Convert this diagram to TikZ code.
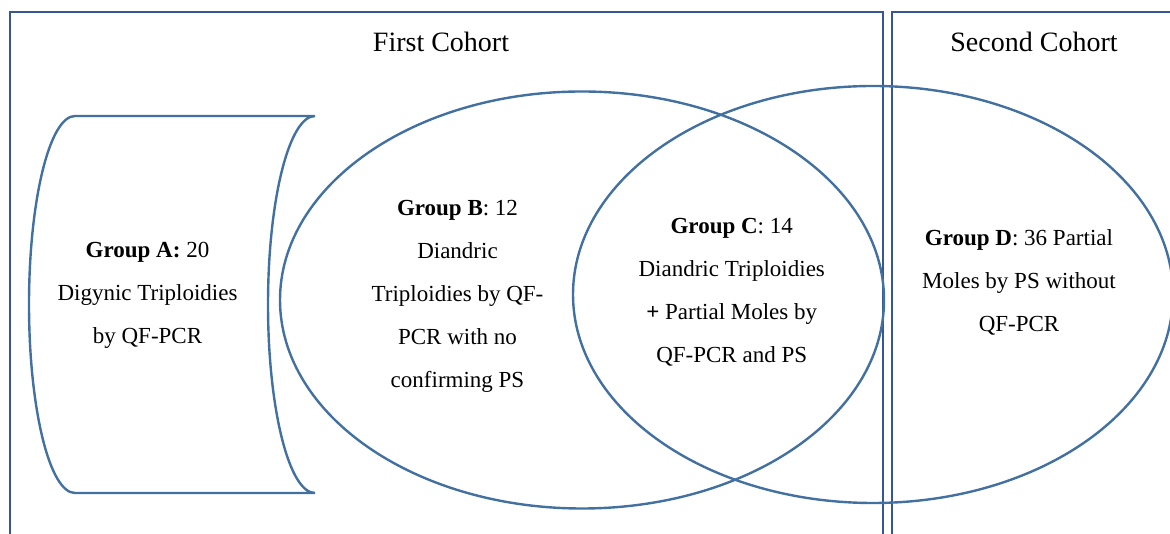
\documentclass[tikz,border=0pt]{standalone}
\usepackage{fontspec}
\setmainfont{Liberation Serif}
\usepackage{tikz}
\usetikzlibrary{positioning,shapes.geometric}
\definecolor{framecol}{RGB}{56,86,150}
\definecolor{shapecol}{RGB}{66,112,160}

\begin{document}
\begin{tikzpicture}[x=0.5pt, y=0.5pt,
    frame/.style={draw=framecol, line width=1.25pt},
    venn/.style={draw=shapecol, line width=1.2pt},
    grouptext/.style={align=center, font=\fontsize{11.5}{21.5}\selectfont},
    cohorttext/.style={font=\fontsize{14}{16}\selectfont}]
    \clip (0,0) rectangle (1170,534);

    \draw[frame] (10,-20) -- (10,522) -- (883,522) -- (883,-20);
    \draw[frame] (892,-20) -- (892,522) -- (1190,522);

    \node[cohorttext] (first) at (441,492) {First Cohort};
    \node[cohorttext] (second) at (1034,492) {Second Cohort};

    \draw[venn] (75,418) -- (315,418)
        arc[start angle=90, end angle=270, x radius=47, y radius=188.5]
        -- (75,41)
        arc[start angle=270, end angle=90, x radius=46, y radius=188.5];
    \draw[venn] (582,234) ellipse [x radius=302, y radius=208.5];
    \draw[venn] (873,239.5) ellipse [x radius=300, y radius=208.5];

    \node[grouptext] (grpA) at (147.5,238.5)
        {\textbf{Group A:} 20\\Digynic Triploidies\\by QF-PCR};
    \node[grouptext] (grpB) at (457.5,237.5)
        {\textbf{Group B}: 12\\Diandric\\Triploidies by QF-\\PCR with no\\confirming PS};
    \node[grouptext] (grpC) at (731.7,242)
        {\textbf{Group C}: 14\\Diandric Triploidies\\\textbf{+} Partial Moles by\\QF-PCR and PS};
    \node[grouptext] (grpD) at (1019,251.5)
        {\textbf{Group D}: 36 Partial\\Moles by PS without\\QF-PCR};
\end{tikzpicture}
\end{document}
